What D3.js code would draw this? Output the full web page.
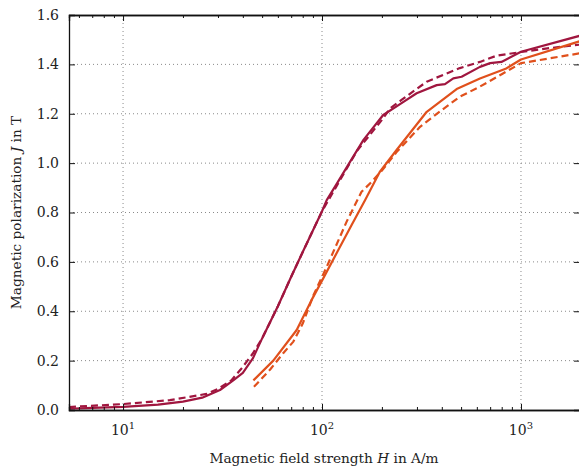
<!DOCTYPE html>
<html>
<head>
<meta charset="UTF-8">
<script src="https://d3js.org/d3.v7.min.js"></script>
<style>
  body { margin: 0; background: #fff; }
  svg text { font-family: "DejaVu Serif", serif; fill: #222; }
  .grid line { stroke: #8a8a8a; stroke-width: 1; stroke-dasharray: 1,3; }
  .series { fill: none; stroke-width: 2.2; stroke-linejoin: round; }
</style>
</head>
<body>
<svg id="chart" width="579" height="469"></svg>
<script>
// measured curves, H in A/m, J in T
const hSolidA = [5.35, 7, 10, 15, 20, 25, 30.7, 35.8, 40, 45, 50, 60, 70, 80, 90, 100, 105.6, 120, 140, 161.6, 203, 250, 299, 377, 415, 457, 503, 622, 700, 798, 1000, 1980];
const jSolidA = [0.005, 0.009, 0.013, 0.022, 0.034, 0.05, 0.081, 0.12, 0.15, 0.21, 0.29, 0.42, 0.54, 0.64, 0.727, 0.805, 0.85, 0.923, 1.012, 1.094, 1.195, 1.242, 1.283, 1.316, 1.32, 1.343, 1.35, 1.39, 1.405, 1.41, 1.451, 1.516];

const hDashA = [5.35, 10, 17.2, 26.3, 30, 35, 39.5, 45, 50, 60, 70, 80, 100, 150, 200, 220, 250, 336, 493, 622, 753, 1000, 1400, 1980];
const jDashA = [0.012, 0.024, 0.04, 0.065, 0.085, 0.12, 0.169, 0.23, 0.29, 0.42, 0.54, 0.64, 0.805, 1.05, 1.175, 1.222, 1.255, 1.33, 1.385, 1.41, 1.435, 1.45, 1.466, 1.48];

const hSolidB = [45.2, 56.9, 74.6, 88.7, 100, 120, 140, 164.5, 195, 237, 336, 475, 622, 837, 1000, 1980];
const jSolidB = [0.12, 0.2, 0.324, 0.446, 0.524, 0.644, 0.745, 0.85, 0.964, 1.053, 1.208, 1.30, 1.343, 1.382, 1.42, 1.494];

const hDashB = [45.5, 55, 63.8, 71.8, 80, 90, 105.6, 133, 158, 178, 200, 237, 311, 400, 493, 622, 800, 1000, 1980];
const jDashB = [0.094, 0.165, 0.23, 0.277, 0.35, 0.46, 0.58, 0.763, 0.884, 0.925, 0.97, 1.045, 1.147, 1.215, 1.269, 1.31, 1.36, 1.405, 1.445];

const xMajor = [10, 100, 1000];
const yTicks = [0, 0.2, 0.4, 0.6, 0.8, 1.0, 1.2, 1.4, 1.6];

const crimson = "#a0163f", orange = "#e0501c";

const margin = { top: 15, left: 69, right: 580, bottom: 410 };
const svg = d3.select("#chart");

const x = d3.scaleLog().domain([5.35, 1980]).range([margin.left, margin.right]);
const y = d3.scaleLinear().domain([0, 1.6]).range([margin.bottom, margin.top]);

// minor ticks for log axis
const xMinor = [];
for (let dec = 1; dec <= 1000; dec *= 10) {
  for (let k = 2; k <= 9; k++) {
    const v = k * dec;
    if (v >= 5.35 && v <= 1980) xMinor.push(v);
  }
}

// grid
const grid = svg.append("g").attr("class", "grid");
grid.selectAll(".gx").data(xMajor).enter().append("line")
  .attr("x1", d => x(d)).attr("x2", d => x(d))
  .attr("y1", margin.top).attr("y2", margin.bottom);
grid.selectAll(".gy").data(yTicks.slice(1, -1)).enter().append("line")
  .attr("x1", margin.left).attr("x2", margin.right)
  .attr("y1", d => y(d)).attr("y2", d => y(d));

// curves
const line = d3.line().x(d => x(d[0])).y(d => y(d[1]));
const series = [
  { h: hDashA, j: jDashA, color: crimson, dash: "7,4" },
  { h: hSolidA, j: jSolidA, color: crimson, dash: null },
  { h: hDashB, j: jDashB, color: orange, dash: "7,4" },
  { h: hSolidB, j: jSolidB, color: orange, dash: null }
];
svg.append("clipPath").attr("id", "clip").append("rect")
  .attr("x", margin.left).attr("y", margin.top)
  .attr("width", margin.right - margin.left).attr("height", margin.bottom - margin.top);
const plot = svg.append("g").attr("clip-path", "url(#clip)");
series.forEach(s => {
  plot.append("path")
    .datum(s.h.map((h, i) => [h, s.j[i]]))
    .attr("class", "series")
    .attr("stroke", s.color)
    .attr("stroke-dasharray", s.dash)
    .attr("d", line);
});

// axes (ticks inward)
const axBottom = svg.append("g").attr("transform", `translate(0,${margin.bottom})`)
  .call(d3.axisBottom(x).tickValues(xMajor).tickSize(-6).tickFormat(""));
const axBottomMinor = svg.append("g").attr("transform", `translate(0,${margin.bottom})`)
  .call(d3.axisBottom(x).tickValues(xMinor).tickSize(-3).tickFormat(""));
const axTop = svg.append("g").attr("transform", `translate(0,${margin.top})`)
  .call(d3.axisTop(x).tickValues(xMajor).tickSize(-6).tickFormat(""));
const axTopMinor = svg.append("g").attr("transform", `translate(0,${margin.top})`)
  .call(d3.axisTop(x).tickValues(xMinor).tickSize(-3).tickFormat(""));
const axLeft = svg.append("g").attr("transform", `translate(${margin.left},0)`)
  .call(d3.axisLeft(y).tickValues(yTicks).tickSize(-6).tickPadding(10).tickFormat(d3.format(".1f")));
const axRight = svg.append("g").attr("transform", `translate(${margin.right},0)`)
  .call(d3.axisRight(y).tickValues(yTicks).tickSize(-6).tickFormat(""));

[axBottom, axBottomMinor, axTop, axTopMinor, axLeft, axRight].forEach(g => {
  g.select(".domain").attr("stroke", "#111").attr("stroke-width", 1.3);
  g.selectAll(".tick line").attr("stroke", "#111").attr("stroke-width", 1);
});
axLeft.selectAll(".tick text").attr("font-size", 14).attr("fill", "#222")
  .style("font-family", "DejaVu Serif");

// x tick labels with superscript exponent
xMajor.forEach(v => {
  const t = svg.append("text")
    .attr("x", x(v)).attr("y", 435)
    .attr("text-anchor", "middle")
    .attr("font-size", 14);
  t.append("tspan").text("10");
  t.append("tspan").attr("dy", -6).attr("font-size", 10).text(Math.round(Math.log10(v)));
});

// axis titles
const xl = svg.append("text").attr("x", 324).attr("y", 463)
  .attr("text-anchor", "middle").attr("font-size", 13.7);
xl.append("tspan").text("Magnetic field strength ");
xl.append("tspan").attr("font-style", "italic").text("H");
xl.append("tspan").text(" in A/m");

const yl = svg.append("text")
  .attr("transform", `translate(21,${(margin.top + margin.bottom) / 2}) rotate(-90)`)
  .attr("text-anchor", "middle").attr("font-size", 13.7);
yl.append("tspan").text("Magnetic polarization ");
yl.append("tspan").attr("font-style", "italic").text("J");
yl.append("tspan").text(" in T");
</script>
</body>
</html>
